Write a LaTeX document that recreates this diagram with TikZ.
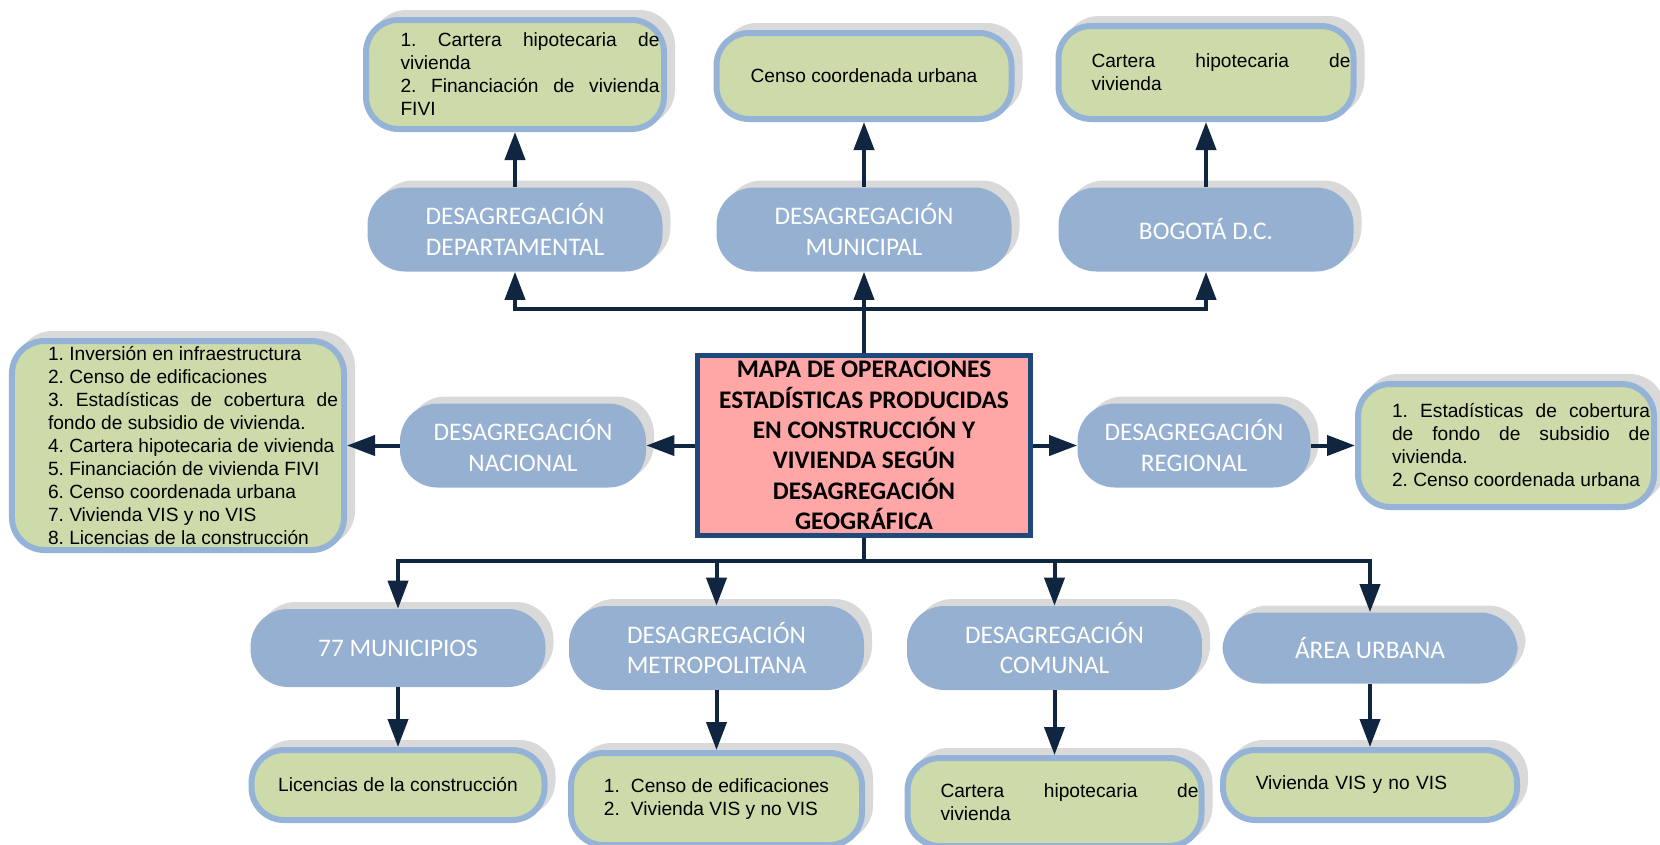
\documentclass[tikz,border=0pt]{standalone}
\usepackage{fontspec}
\setmainfont{Liberation Sans}
\newfontfamily\calibri{Carlito}
\usetikzlibrary{shapes.geometric, arrows.meta, shadows}
\definecolor{levelblue}{HTML}{95B0D1}
\definecolor{resultgreen}{HTML}{CDDBAB}
\definecolor{rimblue}{HTML}{95B3D7}
\definecolor{shadegray}{HTML}{D9D9D9}
\definecolor{arrownavy}{HTML}{10253F}
\definecolor{mainpink}{HTML}{FFA6A6}
\definecolor{mainrim}{HTML}{1F497D}
\tikzstyle{level} = [rectangle, rounded corners=0.75cm, minimum width=5.9cm, minimum height=1.68cm, text centered, align=center, fill=levelblue, text=white, font=\calibri\fontsize{14.4}{17.3}\selectfont, general shadow={fill=shadegray, shadow xshift=0.16cm, shadow yshift=0.14cm}]
\tikzstyle{result} = [rectangle, rounded corners=0.65cm, draw=rimblue, line width=0.12cm, fill=resultgreen, inner sep=0pt, font=\fontsize{10.9}{13.1}\selectfont\frenchspacing, general shadow={fill=shadegray, draw=shadegray, shadow xshift=0.16cm, shadow yshift=0.14cm}]
\tikzstyle{padded} = [align=justify, execute at begin node={\leftskip=0.6cm}]
\tikzstyle{mainbox} = [rectangle, minimum width=6.66cm, minimum height=3.6cm, inner sep=0pt, draw=mainrim, line width=0.1cm, fill=mainpink, align=center, font=\calibri\bfseries\fontsize{14.4}{17.3}\selectfont]
\tikzstyle{arrow} = [line width=0.08cm, draw=arrownavy, -{Triangle[length=0.56cm,width=0.4cm]}]

\begin{document}
\begin{tikzpicture}[node distance=2cm]
    \useasboundingbox (0,0) rectangle (33.2,-16.88);
    \node (mapa) [mainbox] at (17.28,-8.91)
    {MAPA DE OPERACIONES\\ESTADÍSTICAS PRODUCIDAS\\EN CONSTRUCCIÓN Y\\VIVIENDA SEGÚN\\DESAGREGACIÓN\\GEOGRÁFICA};
    % upper row
    \node (muni) [level, above of=mapa, yshift=2.32cm] {DESAGREGACIÓN\\MUNICIPAL};
    \node (depto) [level, left of=muni, xshift=-4.98cm] {DESAGREGACIÓN\\DEPARTAMENTAL};
    \node (bogota) [level, right of=muni, xshift=4.84cm] {BOGOTÁ D.C.};
    \node (datdepto) [result, padded, above of=depto, yshift=1.1cm, minimum width=5.96cm, minimum height=2.18cm, text width=5.78cm]
    {1. Cartera hipotecaria de\linebreak vivienda\\2. Financiación de vivienda\linebreak FIVI};
    \node (datmuni) [result, align=center, above of=muni, yshift=1.07cm, minimum width=5.9cm, minimum height=1.72cm]
    {Censo coordenada urbana};
    \node (datbogota) [result, padded, above of=bogota, yshift=1.14cm, minimum width=5.9cm, minimum height=1.86cm, text width=5.78cm]
    {Cartera hipotecaria de\linebreak vivienda};
    % middle row
    \node (nac) [level, left of=mapa, xshift=-4.82cm, minimum width=4.92cm] {DESAGREGACIÓN\\NACIONAL};
    \node (datnac) [result, padded, left of=nac, xshift=-4.9cm, minimum width=6.64cm, minimum height=4.18cm, text width=6.4cm]
    {1. Inversión en infraestructura\\2. Censo de edificaciones\\3. Estadísticas de cobertura de\linebreak fondo de subsidio de vivienda.\\4. Cartera hipotecaria de vivienda\\5. Financiación de vivienda FIVI\\6. Censo coordenada urbana\\7. Vivienda VIS y no VIS\\8. Licencias de la construcción};
    \node (reg) [level, right of=mapa, xshift=4.6cm, minimum width=4.66cm] {DESAGREGACIÓN\\REGIONAL};
    \node (datreg) [result, padded, right of=reg, xshift=4.24cm, minimum width=5.92cm, minimum height=2.46cm, text width=5.76cm]
    {1. Estadísticas de cobertura\linebreak de fondo de subsidio de\linebreak vivienda.\\2. Censo coordenada urbana};
    % lower row
    \node (metro) [level, below of=mapa, xshift=-2.95cm, yshift=-2.05cm] {DESAGREGACIÓN\\METROPOLITANA};
    \node (mun77) [level, left of=metro, xshift=-4.37cm, minimum height=1.56cm] {77 MUNICIPIOS};
    \node (comunal) [level, right of=metro, xshift=4.76cm] {DESAGREGACIÓN\\COMUNAL};
    \node (urbana) [level, right of=comunal, xshift=4.31cm, minimum height=1.42cm] {ÁREA URBANA};
    \node (datmun77) [result, align=center, below of=mun77, yshift=-0.74cm, minimum width=5.86cm, minimum height=1.4cm]
    {Licencias de la construcción};
    \node (datmetro) [result, align=left, below of=metro, yshift=-1.02cm, minimum width=5.82cm, minimum height=1.84cm]
    {\makebox[0.54cm][l]{1.}Censo de edificaciones\\\makebox[0.54cm][l]{2.}Vivienda VIS y no VIS};
    \node (datcomunal) [result, padded, below of=comunal, yshift=-1.08cm, minimum width=5.88cm, minimum height=1.76cm, text width=5.76cm]
    {Cartera hipotecaria de\linebreak vivienda};
    \node (daturbana) [result, align=left, below of=urbana, yshift=-0.74cm, minimum width=5.88cm, minimum height=1.4cm, text width=4.57cm]
    {Vivienda VIS y no VIS};

    \draw [arrow] (mapa.north) -- (muni.south);
    \draw [arrow] (mapa.north) -- ++(0,0.89) -| (depto.south);
    \draw [arrow] (mapa.north) -- ++(0,0.89) -| (bogota.south);
    \draw [arrow] (depto.north) -- (datdepto.south);
    \draw [arrow] (muni.north) -- (datmuni.south);
    \draw [arrow] (bogota.north) -- (datbogota.south);
    \draw [arrow] (mapa.west) -- (nac.east);
    \draw [arrow] (nac.west) -- (datnac.east);
    \draw [arrow] (mapa.east) -- (reg.west);
    \draw [arrow] (reg.east) -- (datreg.west);
    \draw [arrow] (mapa.south) -- ++(0,-0.45) -| (mun77.north);
    \draw [arrow] (mapa.south) -- ++(0,-0.45) -| (metro.north);
    \draw [arrow] (mapa.south) -- ++(0,-0.45) -| (comunal.north);
    \draw [arrow] (mapa.south) -- ++(0,-0.45) -| (urbana.north);
    \draw [arrow] (mun77.south) -- (datmun77.north);
    \draw [arrow] (metro.south) -- (datmetro.north);
    \draw [arrow] (comunal.south) -- (datcomunal.north);
    \draw [arrow] (urbana.south) -- (daturbana.north);
\end{tikzpicture}
\end{document}
